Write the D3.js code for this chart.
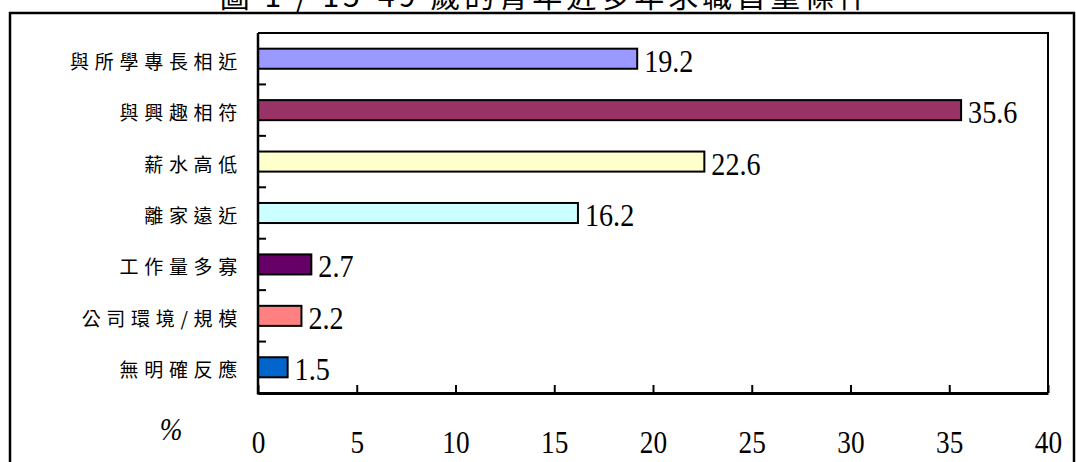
<!DOCTYPE html>
<html><head><meta charset="utf-8">
<script src="https://cdn.jsdelivr.net/npm/d3@7"></script>
<style>
html,body{margin:0;padding:0;background:#fff;}
svg{display:block;}
</style></head>
<body>
<svg id="chart" width="1076" height="462"></svg>
<script>
const titleText = "圖 1 / 15-49 歲的青年近多年求職首重條件";
const categories = ["與所學專長相近","與興趣相符","薪水高低","離家遠近","工作量多寡","公司環境/規模","無明確反應"];
const values = [19.2, 35.6, 22.6, 16.2, 2.7, 2.2, 1.5];
const colors = ["#9999FF","#993366","#FFFFCC","#CCFFFF","#660066","#FF8080","#0066CC"];
const xTicks = [0,5,10,15,20,25,30,35,40];
const unitLabel = "%";

const svg = d3.select("#chart");
const L = 258, R = 1048, T = 33, B = 393;

// outer frame
svg.append("rect").attr("x",10).attr("y",13).attr("width",1064).attr("height",470)
  .attr("fill","none").attr("stroke","#000").attr("stroke-width",2.5);

// title (cut at top, as in the reference)
svg.append("text").attr("x",546).attr("y",7).attr("text-anchor","middle")
  .attr("font-family","'Noto Sans CJK TC'").attr("font-size",30).attr("letter-spacing",4)
  .text(titleText);

const x = d3.scaleLinear().domain([0,40]).range([L,R]);
const y = d3.scaleBand().domain(categories).range([T,B]).paddingInner(0.61).paddingOuter(0.305);

// plot border top & right
svg.append("path").attr("d",`M${L},${T}H${R}V${B}`).attr("fill","none").attr("stroke","#000").attr("stroke-width",2);

// bars
svg.selectAll("rect.bar").data(categories).join("rect").attr("class","bar")
  .attr("x",x(0)).attr("y",d=>y(d)).attr("width",(d,i)=>x(values[i])-x(0)).attr("height",y.bandwidth())
  .attr("fill",(d,i)=>colors[i]).attr("stroke","#000").attr("stroke-width",2);

// value labels
svg.selectAll("text.val").data(categories).join("text").attr("class","val")
  .attr("x",(d,i)=>x(values[i])+7).attr("y",d=>y(d)+y.bandwidth()/2+13)
  .attr("font-family","'Liberation Serif'").attr("font-size",32)
  .attr("transform",(d,i)=>{const px=x(values[i])+7;return `translate(${px},0) scale(0.88,1) translate(${-px},0)`;})
  .text((d,i)=>values[i].toFixed(1));

// x axis
const xAxis = d3.axisBottom(x).tickValues(xTicks).tickSizeInner(-8).tickSizeOuter(0).tickFormat(d3.format("d"));
const gx = svg.append("g").attr("transform",`translate(0,${B})`).call(xAxis);
gx.select(".domain").attr("stroke-width",3);
gx.selectAll(".tick line").attr("stroke-width",2);
gx.selectAll(".tick text").attr("y",60).attr("dy",0)
  .attr("font-family","'Liberation Serif'").attr("font-size",31).attr("fill","#000")
  .attr("transform","scale(0.88,1)");

// y axis
const step = y.step();
const boundaries = categories.slice(1).map(c => y(c) - step*y.paddingInner()/2);
svg.append("line").attr("x1",L).attr("x2",L).attr("y1",T).attr("y2",B+1.5).attr("stroke","#000").attr("stroke-width",2.5);
svg.selectAll("line.ytick").data(boundaries).join("line").attr("class","ytick")
  .attr("x1",L).attr("x2",L+8).attr("y1",d=>d).attr("y2",d=>d).attr("stroke","#000").attr("stroke-width",2);

// category labels
svg.selectAll("text.cat").data(categories).join("text").attr("class","cat")
  .attr("x",243).attr("y",d=>y(d)+y.bandwidth()/2+10)
  .attr("text-anchor","end").attr("font-family","'Noto Sans CJK TC'").attr("font-size",19)
  .attr("letter-spacing",5.7).attr("fill","#000").text(d=>d);

// unit label
svg.append("text").attr("x",171).attr("y",440).attr("text-anchor","middle")
  .attr("font-family","'Liberation Serif'").attr("font-style","italic").attr("font-size",32)
  .attr("transform","translate(171,0) scale(0.85,1) translate(-171,0)").text(unitLabel);
</script>
</body></html>
